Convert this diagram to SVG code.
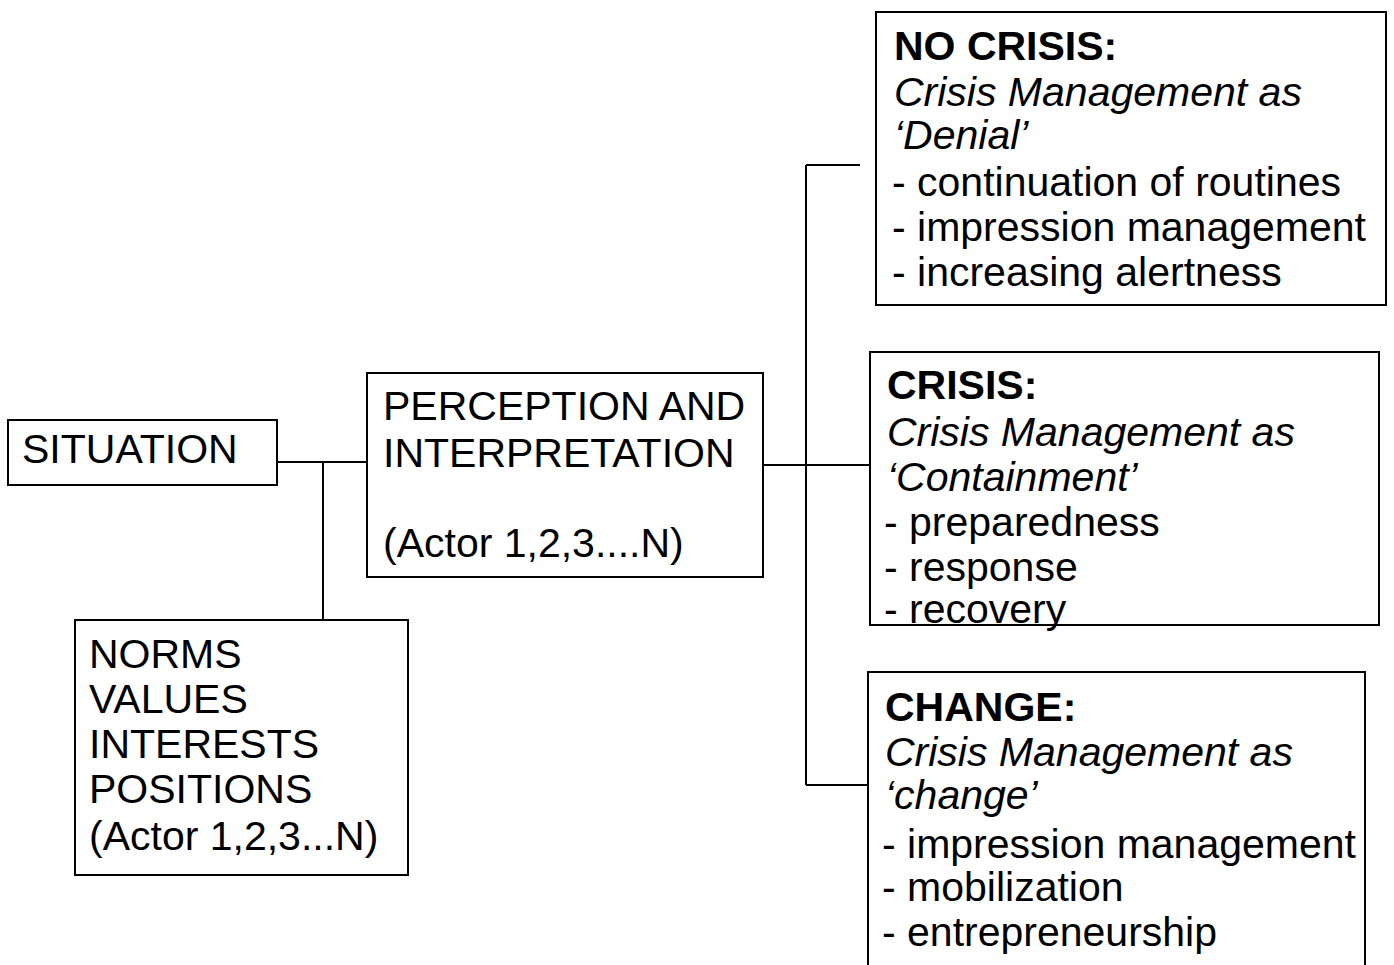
<svg xmlns="http://www.w3.org/2000/svg" width="1394" height="965" viewBox="0 0 1394 965">
<style>
.n{fill:#fff;stroke:#000;stroke-width:2}
text{font-family:"Liberation Sans",Arial,sans-serif;font-size:41px;fill:#000}
.b{font-weight:bold}
.i{font-style:italic}
.c{fill:none;stroke:#000;stroke-width:2}
</style>
<rect width="1394" height="965" fill="#fff"/>
<g id="connectors">
<path class="c" d="M277 462H367M323 462V620"/>
<path class="c" d="M763 465H870M806 165V785M806 165H860M806 785H868"/>
</g>
<g id="situation">
<rect class="n" x="8" y="420" width="269" height="65"/>
<text x="22" y="463">SITUATION</text>
</g>
<g id="perception">
<rect class="n" x="367" y="373" width="396" height="204"/>
<text x="383" y="420">PERCEPTION AND</text>
<text x="383" y="467">INTERPRETATION</text>
<text x="383" y="557">(Actor 1,2,3....N)</text>
</g>
<g id="norms">
<rect class="n" x="75" y="620" width="333" height="255"/>
<text x="89" y="668">NORMS</text>
<text x="89" y="713">VALUES</text>
<text x="89" y="758">INTERESTS</text>
<text x="89" y="803">POSITIONS</text>
<text x="89" y="850">(Actor 1,2,3...N)</text>
</g>
<g id="nocrisis">
<rect class="n" x="876" y="12" width="510" height="293"/>
<text class="b" x="894" y="60">NO CRISIS:</text>
<text class="i" x="894" y="106">Crisis Management as</text>
<text class="i" x="894" y="149">‘Denial’</text>
<text x="892" y="196">- continuation of routines</text>
<text x="892" y="241">- impression management</text>
<text x="892" y="286">- increasing alertness</text>
</g>
<g id="crisis">
<rect class="n" x="870" y="352" width="509" height="273"/>
<text class="b" x="887" y="399">CRISIS:</text>
<text class="i" x="887" y="446">Crisis Management as</text>
<text class="i" x="887" y="491">‘Containment’</text>
<text x="884" y="536">- preparedness</text>
<text x="884" y="581">- response</text>
<text x="884" y="623">- recovery</text>
</g>
<g id="change">
<rect class="n" x="868" y="672" width="497" height="300"/>
<text class="b" x="885" y="721">CHANGE:</text>
<text class="i" x="885" y="766">Crisis Management as</text>
<text class="i" x="885" y="809">‘change’</text>
<text x="882" y="858">- impression management</text>
<text x="882" y="901">- mobilization</text>
<text x="882" y="946">- entrepreneurship</text>
</g>
</svg>
